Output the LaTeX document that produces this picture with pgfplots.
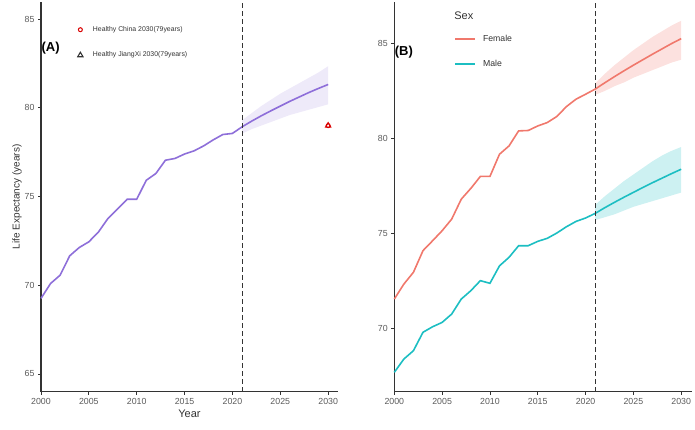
\documentclass[border=0pt]{standalone}
\usepackage{pgfplots}
\pgfplotsset{compat=1.18}
\usepackage{fontspec}
\setmainfont{Liberation Sans}

\definecolor{lepurple}{HTML}{8E6FD9}
\definecolor{femalec}{HTML}{F0786C}
\definecolor{malec}{HTML}{1CBEC2}
\definecolor{axisgray}{HTML}{333333}
\definecolor{tickgray}{HTML}{5A5A5A}

\pgfplotsset{
  panel/.style={
    anchor=south west,
    scale only axis,
    height=389.7pt,
    axis lines*=left,
    axis line style={axisgray, line width=1.3pt},
    every tick/.style={axisgray, line width=0.8pt},
    tick align=outside,
    major tick length=3pt,
    xtick={2000,2005,...,2030},
    xticklabel style={font=\fontsize{8.8}{9}\selectfont, text=tickgray},
    yticklabel style={font=\fontsize{8.8}{9}\selectfont, text=tickgray},
    /pgf/number format/assume math mode=true,
    /pgf/number format/1000 sep={},
    clip=false,
  }
}

\begin{document}
\begin{tikzpicture}[x=1pt,y=1pt]
\path (0,0) rectangle (695,430);

% ---------------- Panel A: total life expectancy ----------------
\begin{axis}[panel,
  at={(41pt,38.3pt)},
  width=297pt,
  xmin=2000, xmax=2031.03,
  ymin=64.0, ymax=85.97,
  ytick={65,70,75,80,85},
  xlabel={Year},
  xlabel style={font=\fontsize{11}{12}\selectfont, text=axisgray, yshift=1.5pt},
  ylabel={Life Expectancy (years)},
  ylabel style={font=\fontsize{10}{11}\selectfont, text=axisgray, yshift=-4pt},
  legend style={at={(0.113,0.948)}, anchor=north west, draw=none, fill=none,
    font=\fontsize{6.9}{7.5}\selectfont, text=axisgray,
    row sep=15pt, /tikz/every odd column/.append style={column sep=8pt}},
  legend cell align=left,
]
% projection interval
\addplot[draw=none, fill=lepurple, fill opacity=0.15, forget plot] coordinates {
  (2021,79.30) (2022,79.70) (2023,80.10) (2024,80.45) (2025,80.80)
  (2026,81.10) (2027,81.40) (2028,81.70) (2029,82.00) (2030,82.35)
  (2030,80.20) (2029,80.05) (2028,79.90) (2027,79.75) (2026,79.60)
  (2025,79.40) (2024,79.20) (2023,79.00) (2022,78.80) (2021,78.55)
} -- cycle;
\addplot[lepurple, line width=1.6pt, forget plot] coordinates {
  (2000,69.26) (2001,70.10) (2002,70.57) (2003,71.66) (2004,72.13)
  (2005,72.45) (2006,73.00) (2007,73.77) (2008,74.30) (2009,74.85)
  (2010,74.85) (2011,75.92) (2012,76.30) (2013,77.05) (2014,77.15)
  (2015,77.40) (2016,77.58) (2017,77.86) (2018,78.20) (2019,78.50)
  (2020,78.56) (2021,78.93)
  (2022,79.25) (2023,79.55) (2024,79.83) (2025,80.10) (2026,80.37)
  (2027,80.62) (2028,80.87) (2029,81.10) (2030,81.32)
};
\addplot[axisgray, line width=0.8pt, dash pattern=on 4.5pt off 3.5pt, forget plot]
  coordinates {(2021,64.0) (2021,85.97)};
% targets
\addplot[only marks, mark=o, mark size=2pt, red!85!black, line width=1pt]
  coordinates {(2030,79)};
\addlegendentry{Healthy China 2030(79years)}
\addplot[only marks, mark=triangle, mark size=3pt, mark options={draw=red!85!black, fill=red!25}, line width=1.1pt,
  legend image post style={mark options={draw=axisgray, fill=white}}]
  coordinates {(2030,79)};
\addlegendentry{Healthy JiangXi 2030(79years)}
\node[anchor=west, font=\bfseries\fontsize{13}{14}\selectfont, text=black]
  at (axis description cs:-0.01,0.882) {(A)};
\end{axis}

% ---------------- Panel B: by sex ----------------
\begin{axis}[panel,
  at={(394.3pt,38.3pt)},
  width=297.4pt,
  xmin=2000, xmax=2031.1,
  ymin=66.66, ymax=87.19,
  ytick={70,75,80,85},
  legend style={at={(0.19,0.926)}, anchor=north west, draw=none, fill=none,
    font=\fontsize{8.7}{9}\selectfont, text=axisgray,
    row sep=13pt, /tikz/every odd column/.append style={column sep=5pt}},
  legend cell align=left,
  legend image code/.code={\draw[#1, line width=2pt] (0pt,0pt) -- (20pt,0pt);},
]
\addplot[draw=none, fill=femalec, fill opacity=0.22, forget plot] coordinates {
  (2021,82.90) (2022,83.40) (2023,83.85) (2024,84.25) (2025,84.65)
  (2026,85.00) (2027,85.35) (2028,85.65) (2029,85.95) (2030,86.20)
  (2030,84.15) (2029,84.00) (2028,83.80) (2027,83.60) (2026,83.40)
  (2025,83.20) (2024,82.95) (2023,82.75) (2022,82.50) (2021,82.30)
} -- cycle;
\addplot[draw=none, fill=malec, fill opacity=0.22, forget plot] coordinates {
  (2021,76.50) (2022,76.95) (2023,77.35) (2024,77.75) (2025,78.10)
  (2026,78.45) (2027,78.80) (2028,79.10) (2029,79.35) (2030,79.55)
  (2030,77.15) (2029,77.00) (2028,76.85) (2027,76.70) (2026,76.55)
  (2025,76.40) (2024,76.20) (2023,76.00) (2022,75.85) (2021,75.70)
} -- cycle;
\addplot[femalec, line width=1.6pt] coordinates {
  (2000,71.54) (2001,72.33) (2002,72.95) (2003,74.09) (2004,74.61)
  (2005,75.14) (2006,75.75) (2007,76.80) (2008,77.37) (2009,78.00)
  (2010,78.00) (2011,79.17) (2012,79.61) (2013,80.40) (2014,80.42)
  (2015,80.66) (2016,80.84) (2017,81.16) (2018,81.68) (2019,82.07)
  (2020,82.33) (2021,82.60)
  (2022,82.93) (2023,83.25) (2024,83.56) (2025,83.86) (2026,84.15)
  (2027,84.44) (2028,84.72) (2029,85.00) (2030,85.26)
};
\addlegendentry{Female}
\addplot[malec, line width=1.6pt] coordinates {
  (2000,67.68) (2001,68.38) (2002,68.82) (2003,69.79) (2004,70.08)
  (2005,70.31) (2006,70.75) (2007,71.54) (2008,71.98) (2009,72.51)
  (2010,72.37) (2011,73.29) (2012,73.74) (2013,74.35) (2014,74.35)
  (2015,74.58) (2016,74.74) (2017,75.02) (2018,75.35) (2019,75.63)
  (2020,75.81) (2021,76.05)
  (2022,76.35) (2023,76.63) (2024,76.90) (2025,77.16) (2026,77.42)
  (2027,77.67) (2028,77.91) (2029,78.15) (2030,78.38)
};
\addlegendentry{Male}
\addplot[axisgray, line width=0.8pt, dash pattern=on 4.5pt off 3.5pt, forget plot]
  coordinates {(2021,66.66) (2021,87.19)};
\node[anchor=west, font=\fontsize{11}{12}\selectfont, text=axisgray]
  at (axis description cs:0.19,0.966) {Sex};
\node[anchor=west, font=\bfseries\fontsize{13}{14}\selectfont, text=black]
  at (axis description cs:-0.01,0.872) {(B)};
\end{axis}
\end{tikzpicture}
\end{document}
